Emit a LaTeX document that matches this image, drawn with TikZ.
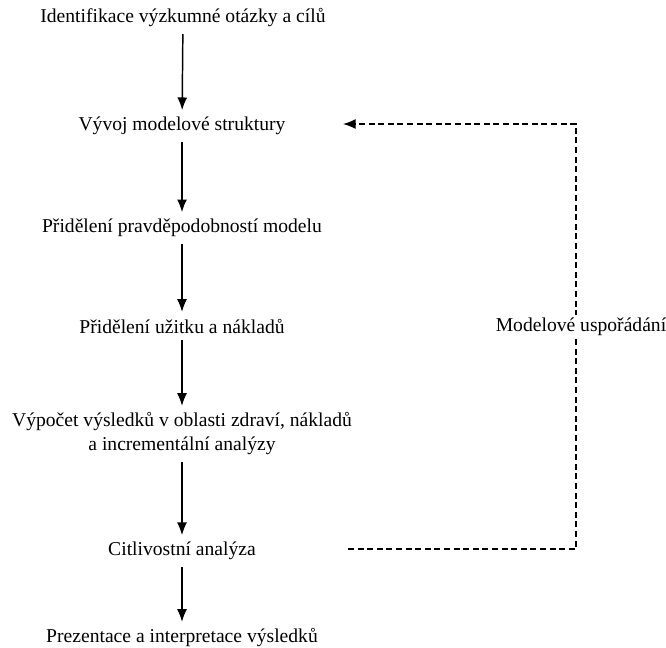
\documentclass[tikz,border=0pt]{standalone}
\usepackage{fontspec}
\setmainfont{Liberation Serif}
\newfontfamily\casopis{Liberation Serif}
\usetikzlibrary{arrows.meta}
\begin{document}
\begin{tikzpicture}[x=0.75pt,y=-0.75pt,
    every node/.style={anchor=center,inner sep=5pt,font=\casopis\fontsize{14.7}{18}\selectfont},
    krok/.style={->,>={Latex[length=9.5pt,width=7.5pt]},line width=1.1pt},
    zpet/.style={->,>={Latex[length=9.5pt,width=7.5pt]},line width=1pt,dash pattern=on 4.5pt off 2.7pt}]
    \useasboundingbox (0,0) rectangle (666,647);
    \node (id) at (183,18) {Identifikace výzkumné otázky a cílů};
    \node (vm) at (182,126) {Vývoj modelové struktury};
    \node (pp) at (182,228) {Přidělení pravděpodobností modelu};
    \node (un) at (182,326) {Přidělení užitku a nákladů};
    \node (vv) at (182,434) [align=center] {Výpočet výsledků v oblasti zdraví, nákladů\\a incrementální analýzy};
    \node (ca) at (182,551) {Citlivostní analýza};
    \node (pi) at (182,638) {Prezentace a interpretace výsledků};
    \coordinate (odkud) at (348,549);
    \coordinate (kam) at (343,124);
    \draw[krok] (id) -- (vm);
    \draw[krok] (vm) -- (pp);
    \draw[krok] (pp) -- (un);
    \draw[krok] (un) -- (vv);
    \draw[krok] (vv) -- (ca);
    \draw[krok] (ca) -- (pi);
    \draw[zpet] (odkud) -- ++(228,0) |- (kam);
    \node (mu) at (581,327) [fill=white,inner sep=2pt] {Modelové uspořádání};
  \end{tikzpicture}
\end{document}
